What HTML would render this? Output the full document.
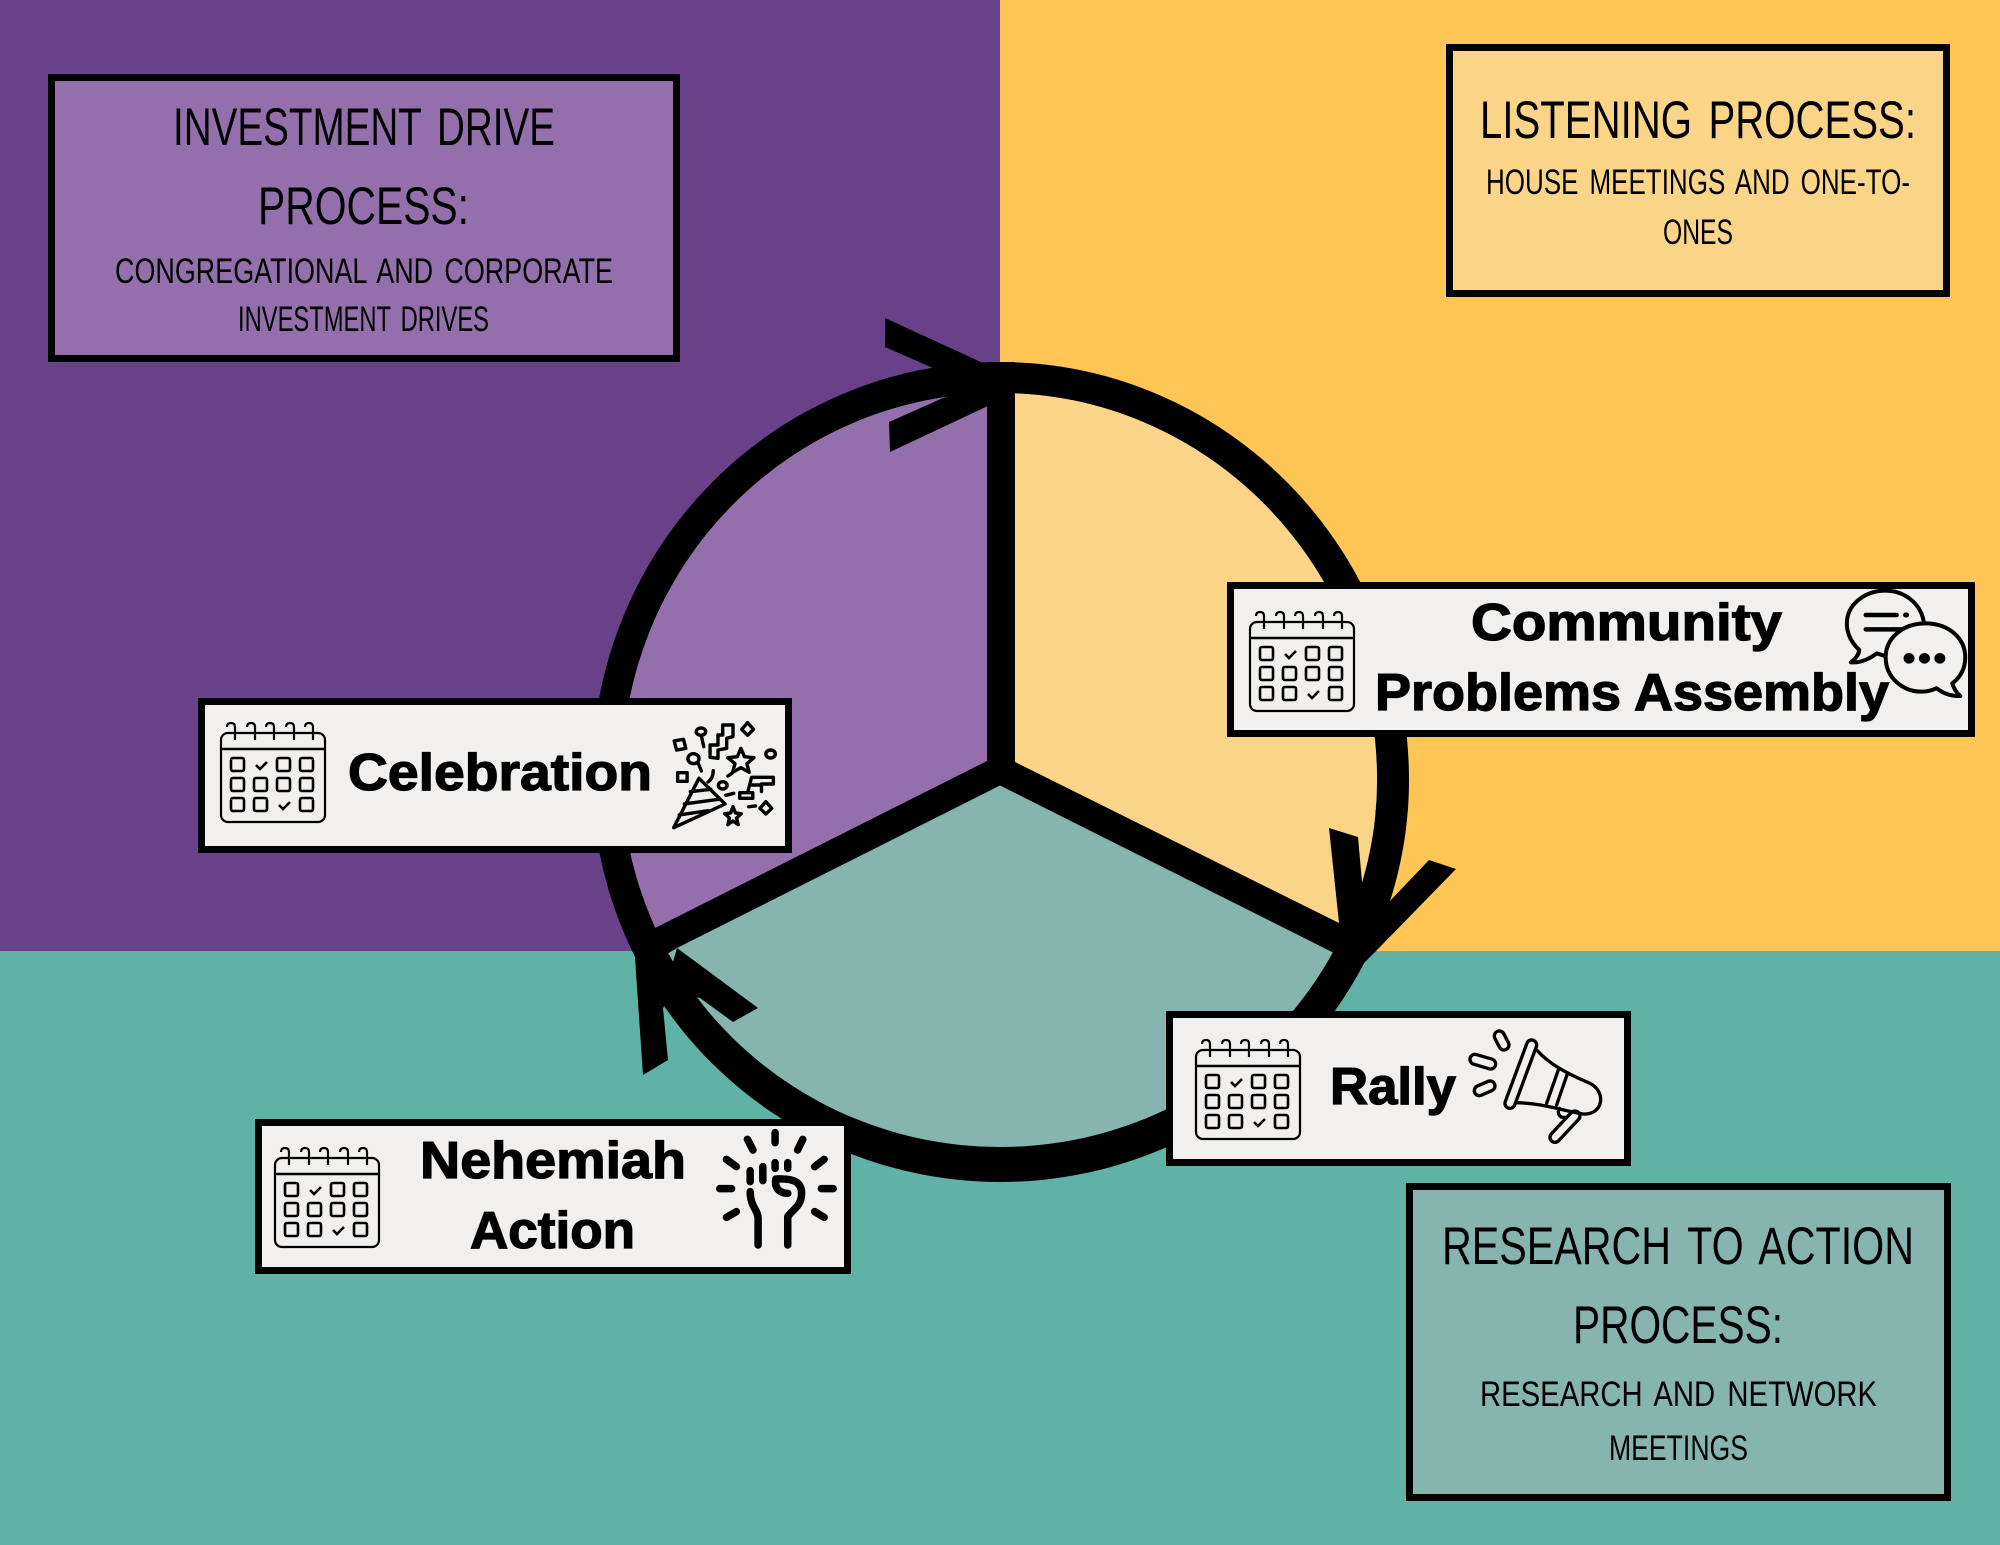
<!DOCTYPE html>
<html><head><meta charset="utf-8"><style>
html,body{margin:0;padding:0;background:#694189}
svg{display:block}
text{fill:#000;font-family:"Liberation Sans",sans-serif}
.h{font-size:53px;word-spacing:7px}
.s{font-size:35px;word-spacing:5px}
.b{font-size:52px;font-weight:700;stroke:#000;stroke-width:1.3px}
.ic *{vector-effect:non-scaling-stroke}
.k{fill:none;stroke:#000;stroke-linecap:round;stroke-linejoin:round}
</style></head><body>
<svg width="2000" height="1545" viewBox="0 0 2000 1545" xmlns="http://www.w3.org/2000/svg">
<defs>
<clipPath id="inner"><path d="M1000 393A377 387 0 0 1 1377 780A377 367 0 0 1 1000 1147A378 372 0 0 1 622 775A378 382 0 0 1 1000 393Z"/></clipPath>
<g id="cal" fill="none" stroke="#000" stroke-width="2.2">
<rect x="0" y="0" width="104" height="89" rx="7"/>
<path d="M0 16H104" stroke-width="2.6"/>
<path d="M6 -6q0-4 4-4t4 4v13M26 -6q0-4 4-4t4 4v13M45 -6q0-4 4-4t4 4v13M65 -6q0-4 4-4t4 4v13M84 -6q0-4 4-4t4 4v13"/>
<g stroke-width="2.6">
<rect x="10" y="25" width="13" height="13" rx="2"/><rect x="56" y="25" width="13" height="13" rx="2"/><rect x="79" y="25" width="13" height="13" rx="2"/>
<rect x="10" y="45" width="13" height="13" rx="2"/><rect x="33" y="45" width="13" height="13" rx="2"/><rect x="56" y="45" width="13" height="13" rx="2"/><rect x="79" y="45" width="13" height="13" rx="2"/>
<rect x="10" y="65" width="13" height="13" rx="2"/><rect x="33" y="65" width="13" height="13" rx="2"/><rect x="79" y="65" width="13" height="13" rx="2"/>
<path d="M35 32l4 4l7-7M58 72l4 4l7-7"/>
</g>
</g>
</defs>

<rect x="0" y="0" width="1000" height="952" fill="#694189"/>
<rect x="1000" y="0" width="1000" height="952" fill="#FFC655"/>
<rect x="0" y="951" width="2000" height="594" fill="#60B2A6"/>

<path fill="#000" d="M1000 362A409 418 0 0 1 1409 780A409 402 0 0 1 1000 1182A408 407 0 0 1 592 775A408 413 0 0 1 1000 362Z"/>
<g clip-path="url(#inner)">
<rect x="600" y="380" width="800" height="790" fill="#85B5AE"/>
<polygon points="1000,773 1000,300 1500,300 1500,1019" fill="#FBD587"/>
<polygon points="1000,773 1000,300 500,300 500,1019" fill="#9370AB"/>
</g>
<polygon points="987,362 1015,362 1015,762 1339,923 1350,930 1340,958 1332,952 1000,785.5 677,948 660,958 646,932 657,927 987,761" fill="#000"/>

<polygon points="885,318 983,363 990,372 933,368 885,347" fill="#000"/>
<polygon points="889,422 890,452 990,405 990,385 943,398" fill="#000"/>
<polygon points="1329,828 1358,837 1362,882 1375,920 1345,945 1339,923" fill="#000"/>
<polygon points="1429,860 1456,869 1377,950 1362,965 1345,960 1370,920 1389,902" fill="#000"/>
<polygon points="635,958 643,1075 668,1060 663,1008 675,990 660,945" fill="#000"/>
<polygon points="677,948 758,1008 733,1022 700,998 665,990" fill="#000"/>

<g stroke="#000" stroke-width="7">
<rect x="51.5" y="77.5" width="625" height="281" fill="#9370AB"/>
<rect x="1449.5" y="47.5" width="497" height="246" fill="#FBD587"/>
<rect x="1409.5" y="1186.5" width="538" height="311" fill="#85B5AE"/>
<rect x="1230.5" y="585.5" width="741" height="148" fill="#F1F0EE"/>
<rect x="201.5" y="701.5" width="587" height="148" fill="#F1F0EE"/>
<rect x="258.5" y="1122.5" width="589" height="148" fill="#F1F0EE"/>
<rect x="1169.5" y="1014.5" width="458" height="148" fill="#F1F0EE"/>
</g>

<text class="h" x="173" y="145" textLength="382" lengthAdjust="spacingAndGlyphs">INVESTMENT DRIVE</text>
<text class="h" x="258" y="224" textLength="211" lengthAdjust="spacingAndGlyphs">PROCESS:</text>
<text class="s" x="115" y="283" textLength="498" lengthAdjust="spacingAndGlyphs">CONGREGATIONAL AND CORPORATE</text>
<text class="s" x="238" y="331" textLength="251" lengthAdjust="spacingAndGlyphs">INVESTMENT DRIVES</text>

<text class="h" x="1480" y="138" textLength="436" lengthAdjust="spacingAndGlyphs">LISTENING PROCESS:</text>
<text class="s" x="1486" y="194" textLength="424" lengthAdjust="spacingAndGlyphs">HOUSE MEETINGS AND ONE-TO-</text>
<text class="s" x="1663" y="244" textLength="70" lengthAdjust="spacingAndGlyphs">ONES</text>

<text class="h" x="1442" y="1264" textLength="472" lengthAdjust="spacingAndGlyphs">RESEARCH TO ACTION</text>
<text class="h" x="1573" y="1343" textLength="210" lengthAdjust="spacingAndGlyphs">PROCESS:</text>
<text class="s" x="1480" y="1406" textLength="397" lengthAdjust="spacingAndGlyphs">RESEARCH AND NETWORK</text>
<text class="s" x="1609" y="1460" textLength="139" lengthAdjust="spacingAndGlyphs">MEETINGS</text>

<text class="b" x="348" y="790" textLength="304" lengthAdjust="spacingAndGlyphs">Celebration</text>
<text class="b" x="1471" y="640" textLength="311" lengthAdjust="spacingAndGlyphs">Community</text>
<text class="b" x="1375" y="710" textLength="514" lengthAdjust="spacingAndGlyphs">Problems Assembly</text>
<text class="b" x="420" y="1178" textLength="266" lengthAdjust="spacingAndGlyphs">Nehemiah</text>
<text class="b" x="470" y="1248" textLength="165" lengthAdjust="spacingAndGlyphs">Action</text>
<text class="b" x="1330" y="1104" textLength="126" lengthAdjust="spacingAndGlyphs">Rally</text>

<use href="#cal" x="221" y="733"/>
<use href="#cal" x="1250" y="622"/>
<use href="#cal" x="275" y="1158"/>
<use href="#cal" x="1196" y="1050"/>

<!-- party -->
<g class="ic k" transform="translate(200,680) scale(.3954,.3333)" stroke-width="3.4">
<polygon points="1262,295 1328,372 1198,443"/>
<path d="M1240 335L1292 328M1225 372L1312 358M1212 405L1285 392"/>
<rect x="1202" y="180" width="24" height="28" transform="rotate(-12 1214 194)"/>
<ellipse cx="1267" cy="155" rx="12" ry="11"/><path d="M1268 168L1274 200"/>
<path d="M1290 232V195H1310V165H1322V135H1348V170L1332 175V205L1310 210V235Z"/>
<polygon points="1385,128 1400,148 1385,166 1370,148"/>
<polygon points="1368,205 1377,230 1401,233 1383,251 1389,277 1368,263 1347,277 1353,251 1335,233 1359,230"/>
<ellipse cx="1443" cy="222" rx="12" ry="12"/>
<ellipse cx="1248" cy="236" rx="14" ry="15"/><path d="M1260 250L1268 273"/>
<rect x="1208" y="278" width="24" height="26"/>
<path d="M1298 272Q1298 295 1285 306"/>
<ellipse cx="1322" cy="316" rx="11" ry="11"/>
<path d="M1330 346L1350 340M1335 288L1345 280"/>
<path d="M1365 338H1398V355H1365ZM1385 338L1390 315H1420V335M1390 315L1395 292H1450V312H1420"/>
<path d="M1388 380L1405 378"/>
<polygon points="1431,365 1446,385 1431,402 1416,385"/>
<polygon points="1348,380 1354,399 1369,401 1357,414 1361,434 1348,423 1335,434 1339,414 1327,401 1342,399"/>
</g>

<!-- chat -->
<g class="ic k" transform="translate(1220,570) scale(.4975,.3333)" stroke-width="4">
<path d="M1415 160C1410 100 1375 62 1338 62C1295 62 1260 105 1260 160C1260 195 1272 222 1285 240C1284 255 1275 270 1268 277C1290 280 1310 262 1320 250L1345 262" fill="#F1F0EE"/>
<path d="M1298 135H1360M1298 178H1380" stroke-width="4.5"/>
<path d="M1378 135H1380" stroke-width="5"/>
<path d="M1418 160C1465 160 1498 205 1498 262C1498 300 1485 325 1472 340C1475 355 1480 368 1488 378C1465 380 1450 365 1440 355C1430 362 1420 365 1410 365C1370 365 1338 320 1338 262C1338 205 1372 160 1418 160Z" fill="#F1F0EE"/>
<ellipse cx="1385" cy="265" rx="7" ry="10" fill="#000"/><ellipse cx="1416" cy="265" rx="7" ry="10" fill="#000"/><ellipse cx="1447" cy="265" rx="7" ry="10" fill="#000"/>
</g>

<!-- fist -->
<g class="ic k" transform="translate(250,1110) scale(.3954,.3333)" stroke-width="7.5">
<path d="M1328 68V98M1258 88L1272 120M1398 88L1385 120M1205 148L1230 170M1452 148L1428 170M1188 236H1218M1445 236H1475M1205 322L1230 305M1452 322L1428 305"/>
<path d="M1265 182V215M1297 170V212M1328 158V175M1360 158V175"/>
<path d="M1265 245C1265 290 1285 300 1285 325V405"/>
<path d="M1360 405V320C1370 300 1395 290 1395 250C1395 215 1375 205 1330 207C1325 240 1345 250 1360 250"/>
</g>

<!-- megaphone -->
<g transform="translate(1160,1000) scale(.3333)" stroke-linecap="round" stroke-linejoin="round" fill="none">
<g stroke="#000" stroke-width="40">
<path d="M1115 135L1050 310"/>
<path d="M1018 108L1032 135"/>
<path d="M945 178L992 192"/>
<path d="M958 272L990 258"/>
<path d="M1245 348L1185 412"/>
</g>
<g stroke="#F1F0EE" stroke-width="20">
<path d="M1115 135L1050 310"/>
<path d="M1018 108L1032 135"/>
<path d="M945 178L992 192"/>
<path d="M958 272L990 258"/>
<path d="M1245 348L1185 412"/>
</g>
<g stroke="#000" stroke-width="10">
<path d="M1132 152C1170 195 1230 225 1290 250C1340 275 1330 345 1270 342C1200 330 1150 310 1068 308"/>
<path d="M1195 210L1160 310M1222 222L1190 315"/>
<path d="M1198 325C1190 340 1200 355 1215 352"/>
</g>
</g>
</svg>
</body></html>
